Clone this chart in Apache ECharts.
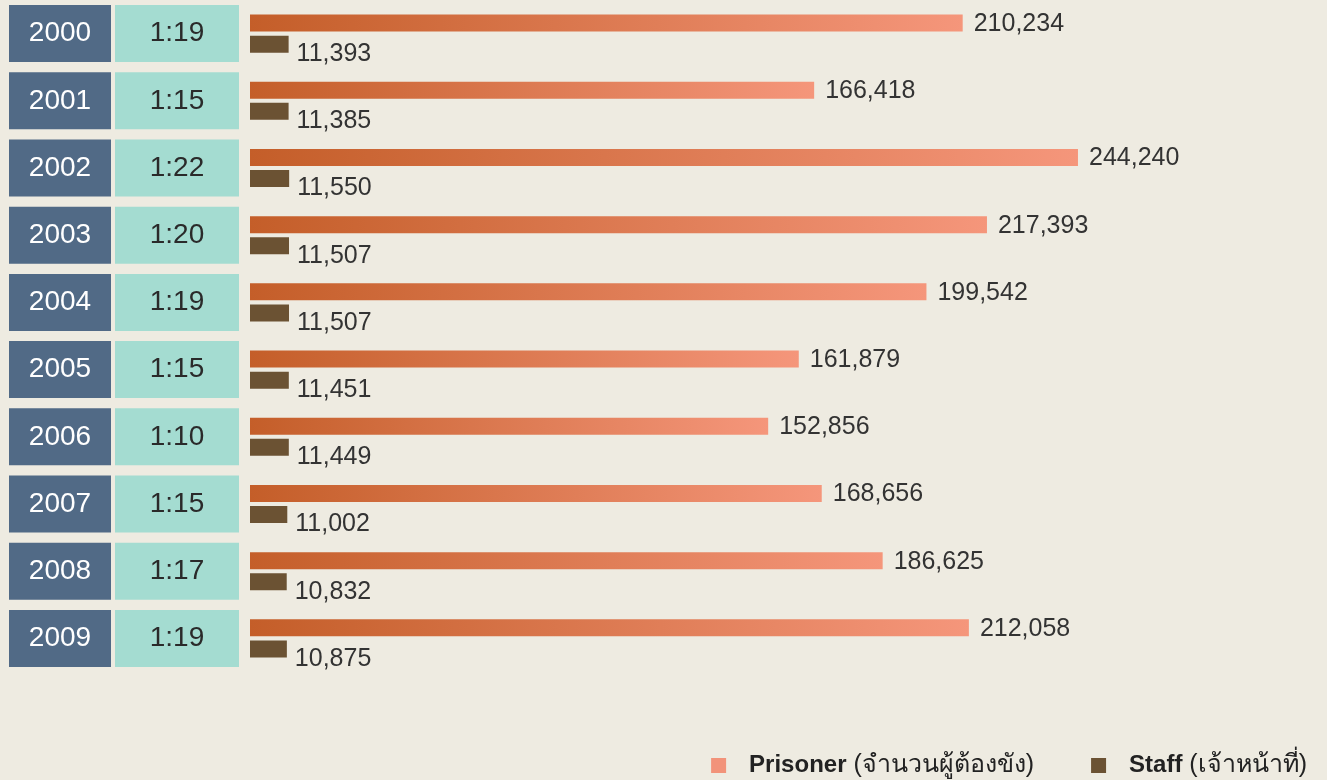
<!DOCTYPE html>
<html>
<head>
<meta charset="utf-8">
<script src="https://cdn.jsdelivr.net/npm/echarts@6/dist/echarts.min.js"></script>
<style>
html,body{margin:0;padding:0;background:#EEEBE1;}
#chart{width:1327px;height:780px;}
</style>
</head>
<body>
<div id="chart"></div>
<script>
const years = ['2000','2001','2002','2003','2004','2005','2006','2007','2008','2009'];
const ratios = ['1:19','1:15','1:22','1:20','1:19','1:15','1:10','1:15','1:17','1:19'];
const prisoners = [210234,166418,244240,217393,199542,161879,152856,168656,186625,212058];
const staff = [11393,11385,11550,11507,11507,11451,11449,11002,10832,10875];
const seriesNames = ['Prisoner','Staff'];
const legendThai = {'Prisoner':'(จำนวนผู้ต้องขัง)','Staff':'(เจ้าหน้าที่)'};

const FONT = '"Liberation Sans", Arial, "Noto Sans", sans-serif';
const fmt = v => v.toLocaleString('en-US');

const chart = echarts.init(document.getElementById('chart'));
chart.setOption({
  backgroundColor: '#EEEBE1',
  animation: false,
  textStyle: {fontFamily: FONT},
  grid: {left: 250, right: 60, top: 0, height: 672, containLabel: false},
  xAxis: {type: 'value', min: 0, max: 300000, show: false},
  yAxis: [
    {
      type: 'category', data: years, inverse: true, position: 'left', offset: 128,
      axisLine: {show: false}, axisTick: {show: false}, splitLine: {show: false},
      axisLabel: {
        margin: 11,
        formatter: v => '{y|' + v + '}',
        rich: {y: {width: 102, height: 57, backgroundColor: '#516A86', color: '#ffffff',
          fontSize: 28, fontFamily: FONT, align: 'center', verticalAlign: 'middle', lineHeight: 57}}
      }
    },
    {
      type: 'category', data: years, inverse: true, position: 'left', offset: 0,
      axisLine: {show: false}, axisTick: {show: false}, splitLine: {show: false},
      axisLabel: {
        margin: 11,
        formatter: (v, i) => '{r|' + ratios[i] + '}',
        rich: {r: {width: 124, height: 57, backgroundColor: '#A4DCD1', color: '#2a2a2a',
          fontSize: 28, fontFamily: FONT, align: 'center', verticalAlign: 'middle', lineHeight: 57}}
      }
    }
  ],
  legend: {
    right: 15, top: 748, itemWidth: 15, itemHeight: 15, itemGap: 57, icon: 'rect',
    data: [
      {name: seriesNames[0], itemStyle: {color: '#F2937A'}},
      {name: seriesNames[1], itemStyle: {color: '#6B5233'}}
    ],
    formatter: n => '{b|' + n + '} ' + legendThai[n],
    textStyle: {
      fontSize: 25, color: '#222', fontFamily: FONT, padding: [0, 0, 0, 18],
      rich: {b: {fontWeight: 'bold', fontSize: 24, color: '#222', fontFamily: FONT}}
    }
  },
  series: [
    {
      name: seriesNames[0], type: 'bar', data: prisoners, yAxisIndex: 0,
      barWidth: 17, barGap: '24%',
      itemStyle: {color: new echarts.graphic.LinearGradient(0, 0, 1, 0, [
        {offset: 0, color: '#C45E29'}, {offset: 1, color: '#F5967B'}])},
      label: {show: true, position: 'right', distance: 11, offset: [0, 1],
        formatter: p => fmt(p.value), fontSize: 25, color: '#333', fontFamily: FONT}
    },
    {
      name: seriesNames[1], type: 'bar', data: staff, yAxisIndex: 0,
      barWidth: 17, barGap: '24%',
      itemStyle: {color: '#6B5233'},
      label: {show: true, position: 'right', distance: 8, offset: [0, 10],
        formatter: p => fmt(p.value), fontSize: 25, color: '#333', fontFamily: FONT}
    }
  ]
});
</script>
</body>
</html>
